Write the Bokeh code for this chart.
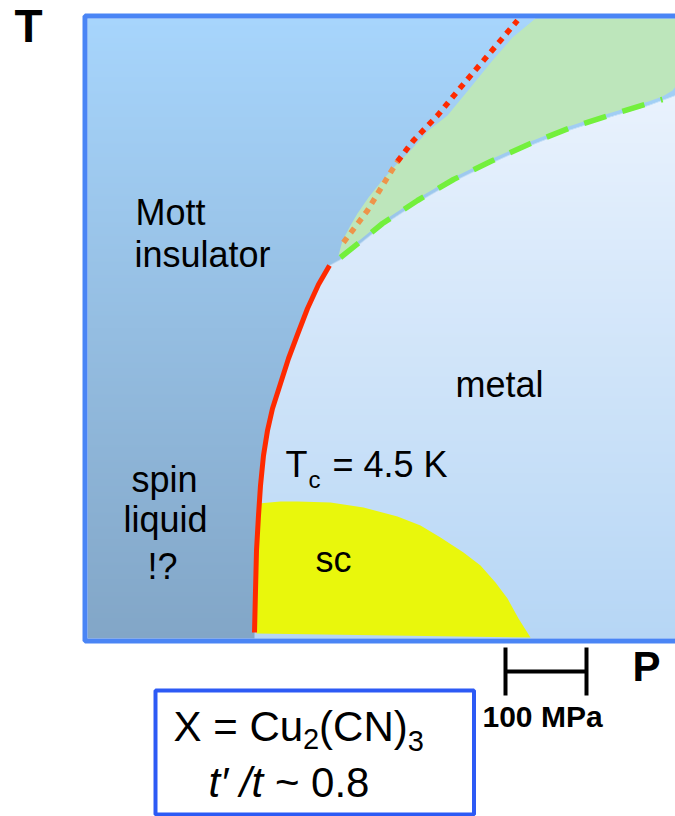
import numpy as np
from bokeh.plotting import figure
from bokeh.models import Range1d, Label
from bokeh.embed import file_html
from bokeh.resources import INLINE

W, H = 675, 816

# ---- schematic phase diagram, P to the right, T upward (arbitrary units) ----
frame_x0, frame_x1 = 87, 675
frame_y0, frame_y1 = 178, 798

# first-order Mott transition (solid red)
mott_P = [254, 255, 256, 258, 260, 263, 267, 272, 280, 288, 297, 307, 318, 329]
mott_T = [184, 226, 266, 301, 331, 361, 386, 408, 433, 458, 482, 508, 532, 551]

# upper edge of the metallic region beyond the critical end point
metal_P = [329, 340, 382, 417, 453, 490, 530, 568, 608, 648, 675]
metal_T = [551, 557, 591, 614, 635, 653, 671, 686, 699, 711, 721]

# crossover line (dashed green)
cross_P = [340, 360, 382, 417, 453, 490, 530, 568, 608, 648, 662]
cross_T = [559, 575, 593, 616, 637, 655, 673, 688, 701, 713, 717]

# Widom-like extension of the Mott line (dotted)
widom_lo_P = [343, 355, 367, 379, 390, 397]
widom_lo_T = [574, 590, 606, 626, 644, 655]
widom_hi_P = [397, 413, 437, 460, 483, 500, 517]
widom_hi_T = [655, 676, 701, 729, 756, 776, 796]

# crossover region (green)
green_P = [338, 342, 350, 357, 368, 380, 395, 410, 428, 447, 470, 492, 512, 535,
           675, 675, 672, 662, 648, 608, 568, 530, 490, 453, 417, 382, 360]
green_T = [561, 576, 591, 603, 619, 634, 651, 666, 686, 701, 729, 756, 779, 798,
           798, 730, 726, 720, 715, 703, 690, 675, 657, 639, 618, 595, 577]

# superconducting dome
sc_P = [256, 258, 280, 297, 330, 363, 397, 420, 440, 463, 480, 495, 507, 518, 530, 256]
sc_T = [183, 313, 315, 315, 314, 309, 300, 291, 279, 264, 251, 234, 218, 198, 179, 183]

# 100 MPa scale bar
bar_P = [505, 586]
bar_T = [121, 169]

# colours
ins_bottom, ins_top = np.array([130, 166, 199]), np.array([167, 213, 252])
met_bottom, met_top = np.array([182, 214, 245]), np.array([233, 242, 253])
frame_col = "#4a85f5"

p = figure(width=W, height=H, x_range=Range1d(0, W), y_range=Range1d(0, H),
           output_backend="svg", toolbar_location=None, min_border=0)
p.axis.visible = False
p.grid.visible = False
p.outline_line_color = None
p.background_fill_color = "white"
p.border_fill_color = "white"

# background: insulating and metallic regions, each with a vertical gradient
rows = frame_y1 - frame_y0
cols = frame_x1 - frame_x0
yc = frame_y0 + 0.5 + np.arange(rows)
xb = np.where(yc <= mott_T[-1], np.interp(yc, mott_T, mott_P),
              np.where(yc <= metal_T[-1], np.interp(yc, metal_T, metal_P), 1e9))
xl = frame_x0 + np.arange(cols)
f = np.clip(xl[None, :] + 1 - xb[:, None], 0, 1)[..., None]
t_ins = ((yc - frame_y0) / rows)[:, None, None]
t_met = np.clip((yc - frame_y0) / (metal_T[-1] - frame_y0), 0, 1)[:, None, None]
ins = ins_bottom + (ins_top - ins_bottom) * t_ins
met = met_bottom + (met_top - met_bottom) * t_met
rgb = ins * (1 - f) + met * f
img = np.empty((rows, cols, 4), dtype=np.uint8)
img[..., :3] = np.round(rgb).astype(np.uint8)
img[..., 3] = 255
p.image_rgba(image=[img.view(np.uint32).reshape(rows, cols)],
             x=frame_x0, y=frame_y0, dw=cols, dh=rows)

p.patch(green_P, green_T, fill_color="#bde6bb", line_color=None)
p.patch(sc_P, sc_T, fill_color="#e9f70c", line_color=None)

p.line(widom_lo_P, widom_lo_T, line_color="#ee944a", line_width=5.5, line_dash="6 6")
p.line(widom_hi_P, widom_hi_T, line_color="#ff2a00", line_width=5.5, line_dash="6 6")
p.line(cross_P, cross_T, line_color="#73f03c", line_width=5.5, line_dash="23 17")
p.line(mott_P, mott_T, line_color="#ff2a00", line_width=5, line_join="round")

# frame
p.quad(left=frame_x0 - 2.5, right=frame_x1 + 20, bottom=frame_y0 - 2.5, top=frame_y1 + 2.5,
       fill_color=None, line_color=frame_col, line_width=5)

# scale bar
p.segment(x0=[bar_P[0], bar_P[1], bar_P[0]], y0=[bar_T[0], bar_T[0], sum(bar_T) / 2],
          x1=[bar_P[0], bar_P[1], bar_P[1]], y1=[bar_T[1], bar_T[1], sum(bar_T) / 2],
          line_color="black", line_width=4)

# material box
p.quad(left=155, right=473.5, bottom=2, top=126, fill_color="white",
       line_color="#2d5af5", line_width=4)

FONT = "Liberation Sans"


def lab(x, y, s, size, align="left", bold=False, italic=False):
    # y is the text baseline; lift to compensate for the renderer's baseline offset
    style = "bold" if bold else ("italic" if italic else "normal")
    p.add_layout(Label(x=x, y=y + 0.38 * size, text=s, text_font=FONT,
                       text_font_size=f"{size}px", text_align=align,
                       text_baseline="alphabetic", text_font_style=style,
                       text_color="black"))


lab(14, 773, "T", 46, bold=True)
lab(632, 134, "P", 42, bold=True)
lab(482, 89, "100 MPa", 30, bold=True)

lab(135, 590, "Mott", 36)
lab(134, 548, "insulator", 36)
lab(455, 418, "metal", 36)
lab(164, 323, "spin", 36, align="center")
lab(165, 283, "liquid", 36, align="center")
lab(162, 236, "!?", 36, align="center")
lab(285, 338, "T", 36)
lab(308, 328, "c", 24)
lab(332, 338, "= 4.5 K", 36)
lab(315, 243, "sc", 36)

lab(173, 74, "X = Cu", 42)
lab(302.6, 66, "2", 29)
lab(318.6, 74, "(CN)", 42)
lab(407.2, 64, "3", 29)
lab(208, 18, "t\u2032 /t", 42, italic=True)
lab(274.4, 18, "~ 0.8", 42)

open("out.html", "w").write(file_html(p, INLINE))
